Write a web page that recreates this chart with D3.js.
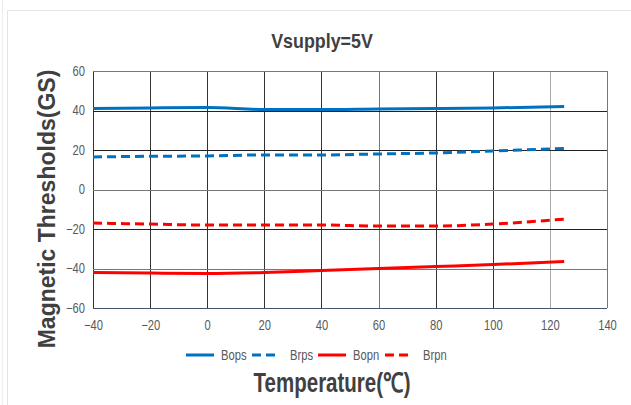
<!DOCTYPE html>
<html>
<head>
<meta charset="utf-8">
<script src="https://cdn.jsdelivr.net/npm/d3@7"></script>
<style>
  body { margin: 0; background: #fff; }
  svg { display: block; }
</style>
</head>
<body>
<svg id="chart" width="631" height="405"></svg>
<script>
// readings
const temps = [-40, -20, 0, 20, 40, 60, 80, 100, 125];
const bops = [41, 41.3, 41.5, 40.5, 40.5, 40.8, 41, 41.3, 42];
const brps = [16.5, 16.8, 17, 17.5, 17.5, 18, 18.5, 19.5, 20.8];
const bopn = [-42, -42.3, -42.5, -42, -41, -40, -39, -38, -36.5];
const brpn = [-17, -17.5, -18, -18, -18, -18.5, -18.5, -17.5, -15];
const xTicks = [-40, -20, 0, 20, 40, 60, 80, 100, 120, 140];
const yTicks = [-60, -40, -20, 0, 20, 40, 60];

const series = [
  { name: "Bops", values: bops, color: "#0070c0", dash: null },
  { name: "Brps", values: brps, color: "#0070c0", dash: "9 5" },
  { name: "Bopn", values: bopn, color: "#ff0000", dash: null },
  { name: "Brpn", values: brpn, color: "#ff0000", dash: "9 5" },
];

// no narrow font installed, so squeeze a regular one
const font = '"Liberation Sans", Arial, sans-serif';
const SQ = 0.8;
const svg = d3.select("#chart");

// outer panel border
svg.append("rect")
  .attr("x", 7.5).attr("y", 10.5)
  .attr("width", 640).attr("height", 400)
  .attr("fill", "none").attr("stroke", "#e4e4e4");
svg.append("line")
  .attr("x1", 2.5).attr("x2", 2.5).attr("y1", 0).attr("y2", 405)
  .attr("stroke", "#ececec");

const x = d3.scaleLinear().domain([-40, 140]).range([93, 607]);
const y = d3.scaleLinear().domain([-60, 60]).range([308, 71]);

// grid lines
const gridColor = (v) => (v === 120 ? "#aaa" : v === 140 || v === 60 ? "#777" : "#333");
svg.append("g")
  .selectAll("line")
  .data(xTicks)
  .join("line")
  .attr("x1", (d) => Math.round(x(d)) + 0.5)
  .attr("x2", (d) => Math.round(x(d)) + 0.5)
  .attr("y1", y(60)).attr("y2", y(-60))
  .attr("stroke", (d) => gridColor(d))
  .attr("stroke-width", 1);

svg.append("g")
  .selectAll("line")
  .data(yTicks)
  .join("line")
  .attr("x1", x(-40)).attr("x2", x(140))
  .attr("y1", (d) => Math.round(y(d)) + 0.5)
  .attr("y2", (d) => Math.round(y(d)) + 0.5)
  .attr("stroke", (d) => (d === -60 ? "#44546a" : d === 0 || d === -40 || d === 60 ? "#777" : "#222"))
  .attr("stroke-width", 1);

// axes labels
const xAxis = svg.append("g")
  .attr("transform", `translate(0, ${y(-60)})`)
  .call(d3.axisBottom(x).tickValues(xTicks).tickSize(0).tickPadding(12));
xAxis.select(".domain").remove();
xAxis.selectAll("text")
  .attr("font-family", font).attr("font-size", 14).attr("fill", "#595959")
  .attr("transform", `scale(${SQ},1)`);

const yAxis = svg.append("g")
  .attr("transform", `translate(${x(-40)}, 0)`)
  .call(d3.axisLeft(y).tickValues(yTicks).tickSize(0).tickPadding(8));
yAxis.select(".domain").remove();
yAxis.selectAll("text")
  .attr("font-family", font).attr("font-size", 14).attr("fill", "#595959")
  .attr("x", -8 / SQ)
  .attr("transform", `scale(${SQ},1)`);

// series
const line = d3.line()
  .x((d, i) => x(temps[i]))
  .y((d) => y(d))
  .curve(d3.curveMonotoneX);

svg.append("g")
  .selectAll("path")
  .data(series)
  .join("path")
  .attr("d", (s) => line(s.values))
  .attr("fill", "none")
  .attr("stroke", (s) => s.color)
  .attr("stroke-width", 3)
  .attr("stroke-dasharray", (s) => s.dash);

// title
svg.append("text")
  .attr("transform", "translate(322, 48) scale(0.85,1)")
  .attr("text-anchor", "middle")
  .attr("font-family", font).attr("font-weight", "bold")
  .attr("font-size", 21).attr("fill", "#404040")
  .text("Vsupply=5V");

// y title
svg.append("text")
  .attr("transform", "translate(55, 209) rotate(-90)")
  .attr("text-anchor", "middle")
  .attr("font-family", font)
  .attr("font-weight", "bold")
  .attr("font-size", 23).attr("fill", "#404040")
  .text("Magnetic Thresholds(GS)");

// x title
svg.append("text")
  .attr("transform", "translate(332, 392) scale(0.76,1)")
  .attr("text-anchor", "middle")
  .attr("font-family", font).attr("font-weight", "bold")
  .attr("font-size", 27).attr("fill", "#404040")
  .text("Temperature(℃)");

// legend
const legendPos = [186, 252, 318, 385];
const legend = svg.append("g")
  .selectAll("g")
  .data(series)
  .join("g")
  .attr("transform", (d, i) => `translate(${legendPos[i]}, 355)`);
legend.append("line")
  .attr("x1", 0).attr("x2", 28)
  .attr("stroke", (s) => s.color)
  .attr("stroke-width", 3)
  .attr("stroke-dasharray", (s) => s.dash);
legend.append("text")
  .attr("transform", (s) => `translate(${s.dash ? 38 : 35}, 5) scale(${SQ},1)`)
  .attr("font-family", font).attr("font-size", 14).attr("fill", "#595959")
  .text((s) => s.name);
</script>
</body>
</html>
